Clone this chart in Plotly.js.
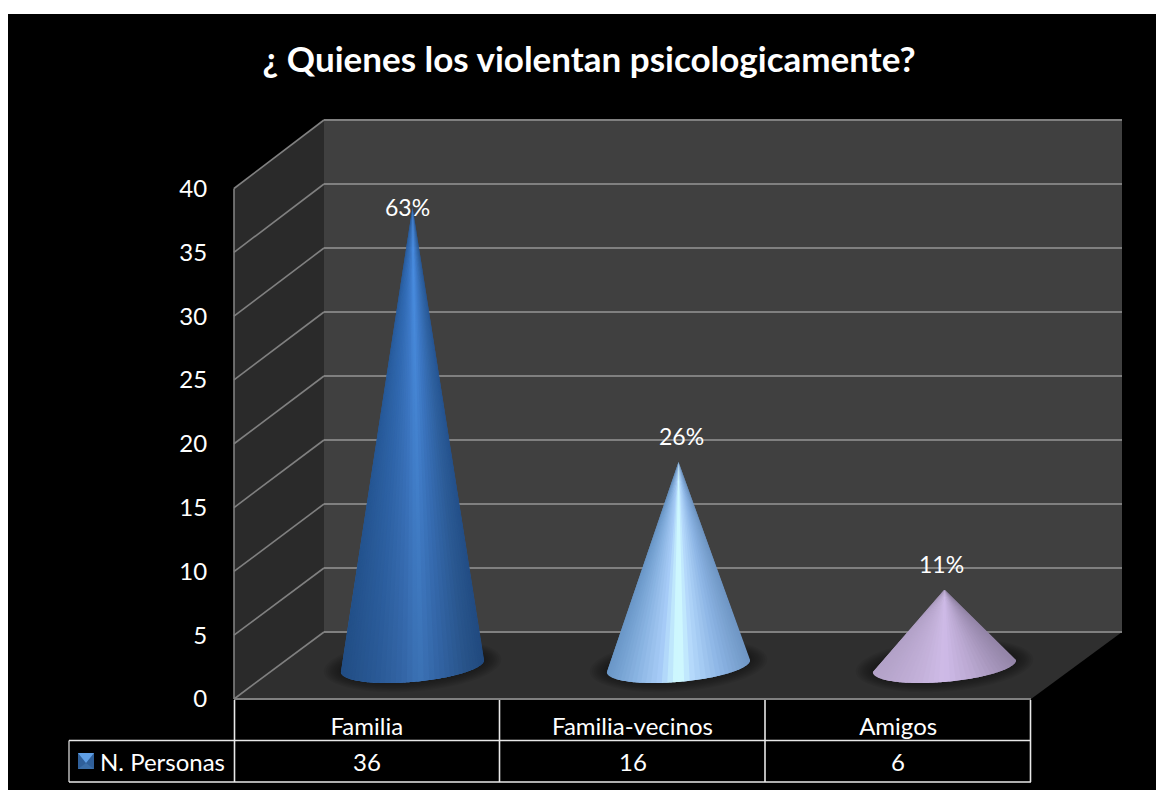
<!DOCTYPE html>
<html><head><meta charset="utf-8">
<script src="https://cdn.plot.ly/plotly-3.0.1.min.js"></script>
<style>html,body{margin:0;padding:0;background:#fff}</style></head>
<body><div id="chart" style="width:1156px;height:790px"></div>
<script>
const titleText = '¿ Quienes los violentan psicologicamente?';
const categories = ['Familia', 'Familia-vecinos', 'Amigos'];
const personas = [36, 16, 6];
const percentLabels = ['63%', '26%', '11%'];
const seriesName = 'N. Personas';
const yTicks = [0, 5, 10, 15, 20, 25, 30, 35, 40];

const W = 1156, H = 790, FONT = 'Lato, "Open Sans", sans-serif';
const px = x => x / W, py = y => 1 - y / H;
const dom = (a, b) => [a / W, b / W], domY = (bottom, top) => [1 - bottom / H, 1 - top / H];

// cone shading: colour stops across the visible surface (left edge -> right edge)
const ramps = [
  [[-1,'#2a62a8'],[-0.5,'#3572bf'],[-0.15,'#4180d2'],[0.1,'#4c92e8'],[0.35,'#4180d2'],[0.75,'#3269ad'],[1,'#295c9f']],
  [[-1,'#6a97c8'],[-0.6,'#8ab4e2'],[-0.25,'#a8cdf8'],[0.0,'#d4ffff'],[0.2,'#b4d8fb'],[0.6,'#8cb4e4'],[1,'#6f96c4']],
  [[-1,'#b3a2c8'],[-0.4,'#c2b0d8'],[0.0,'#cfbbe8'],[0.4,'#bba9d2'],[1,'#9485a8']]
];
const darken = [0.22, 0, 0];
const rx = 0.269, ry = 1.25, tilt = 0.47, nFacets = 40;

function hex(c){return [1,3,5].map(i=>parseInt(c.substr(i,2),16));}
function rampColor(r,u){
  for(let i=1;i<r.length;i++){ if(u<=r[i][0]){
    const f=(u-r[i-1][0])/(r[i][0]-r[i-1][0]), a=hex(r[i-1][1]), b=hex(r[i][1]);
    return 'rgb('+a.map((v,k)=>Math.round(v+(b[k]-v)*f)).join(',')+')';
  }}
  return r[r.length-1][1];
}
const rim = (i,t) => [i + rx*Math.cos(t), -ry*Math.sin(t) + tilt*Math.cos(t)];

const traces = [];
const skip = {hoverinfo:'skip', showlegend:false};
traces.push({type:'scatter', mode:'none', x:categories, y:personas, xaxis:'x', yaxis:'y', name:seriesName, showlegend:false, hoverinfo:'skip'});
traces.push({type:'scatter', mode:'none', x:[0,1], y:[0,40], xaxis:'x2', yaxis:'y2', ...skip});

personas.forEach((v,i)=>{
  // soft shadow
  for(let s=8;s>=1;s--){
    const k=1+0.03*s, xs=[], ys=[];
    for(let j=0;j<=60;j++){const t=j/60*2*Math.PI; xs.push(i+rx*k*Math.cos(t)); ys.push(-(ry+0.1*s)*Math.sin(t)+tilt*Math.cos(t)+0.05);}
    traces.push({type:'scatter',mode:'none',x:xs,y:ys,fill:'toself',fillcolor:'rgba(0,0,0,0.055)',xaxis:'x3',yaxis:'y3',...skip});
  }
  // cone surface: each facet overlaps the next one's area so no seams show
  for(let j=0;j<nFacets;j++){
    const dt=Math.PI/nFacets, t0=j*dt, t1=Math.min(Math.PI,(j+2)*dt);
    const xs=[i],ys=[v];
    for(let q=0;q<=6;q++){const p=rim(i,t0+(t1-t0)*q/6);xs.push(p[0]);ys.push(p[1]);}
    xs.push(i);ys.push(v);
    const col=rampColor(ramps[i],Math.cos(t0+dt/2));
    traces.push({type:'scatter',mode:'none',x:xs,y:ys,fill:'toself',fillcolor:col,xaxis:'x3',yaxis:'y3',...skip});
  }
  if(darken[i]>0){
    const xs=[i],ys=[v];
    for(let j=0;j<=nFacets;j++){const p=rim(i,j/nFacets*Math.PI);xs.push(p[0]);ys.push(p[1]);}
    xs.push(i);ys.push(v);
    traces.push({type:'scatter',mode:'none',x:xs,y:ys,fill:'toself',
      fillgradient:{type:'vertical',colorscale:[[0,'rgba(0,0,0,'+darken[i]+')'],[1,'rgba(0,0,0,0)']]},
      xaxis:'x3',yaxis:'y3',...skip});
  }
});

const grey='#808080', tableLine='#e8e8e8';
const shapes=[];
const poly=(pts,fill)=>shapes.push({type:'path',xref:'paper',yref:'paper',layer:'below',
  path:'M'+pts.map(p=>px(p[0])+','+py(p[1])).join('L')+'Z',fillcolor:fill,line:{width:0}});
const seg=(x0,y0,x1,y1,color,width)=>shapes.push({type:'line',xref:'paper',yref:'paper',layer:'below',
  x0:px(x0),y0:py(y0),x1:px(x1),y1:py(y1),line:{color:color,width:width}});
poly([[8,14],[W,14],[W,H],[8,H]],'#000000');
poly([[324,120],[1122,120],[1122,632],[324,632]],'#404040');
poly([[234,188.5],[324,120],[324,632],[234,699]],'#2a2a2a');
poly([[234,699],[324,632],[1122,632],[1031,699]],'#2f2f2f');
yTicks.forEach(t=>{ const f=t/40; seg(234,699-510.5*f,324,632-512*f,grey,1.6); });
seg(324,120,1122,120,grey,2);
seg(324,632,1122,632,grey,2);
seg(234,188.5,234,699,grey,1.6);
seg(234,699,1031,699,grey,2);

// data table grid
[234.5,499.5,765,1030.5].forEach(x=>shapes.push({type:'line',xref:'paper',yref:'paper',layer:'above',x0:px(x),x1:px(x),y0:py(700),y1:py(782),line:{color:tableLine,width:1.6}}));
[740.5,782].forEach(y=>shapes.push({type:'line',xref:'paper',yref:'paper',layer:'above',x0:px(69),x1:px(1031),y0:py(y),y1:py(y),line:{color:tableLine,width:1.6}}));
shapes.push({type:'line',xref:'paper',yref:'paper',layer:'above',x0:px(69),x1:px(69),y0:py(740.5),y1:py(782),line:{color:tableLine,width:1.2}});
// legend key
const key=(pts,fill)=>shapes.push({type:'path',xref:'paper',yref:'paper',layer:'above',path:'M'+pts.map(p=>px(p[0])+','+py(p[1])).join('L')+'Z',fillcolor:fill,line:{width:0}});
key([[78,753],[94,753],[94,769],[78,769]],'#2f5f99');
key([[78,753],[94,753],[86,763]],'#5f9fe6');
key([[78,769],[94,769],[86,763]],'#3b6ea8');

const annFont={family:FONT,size:24,color:'#ffffff'};
const labelFont={family:FONT,size:23,color:'#ffffff'};
const annotations=[];
const labelLift=[0,2,2], labelShift=[-5,3,-3];
personas.forEach((v,i)=>{
  annotations.push({xref:'x3',yref:'y3',x:i,y:v+labelLift[i],xshift:labelShift[i],text:percentLabels[i],showarrow:false,xanchor:'center',yanchor:'middle',font:labelFont});
  annotations.push({xref:'x',yref:'paper',x:categories[i],y:py(761),text:String(v),showarrow:false,xanchor:'center',yanchor:'middle',font:annFont});
});
annotations.push({xref:'paper',yref:'paper',x:px(227),y:py(761),text:seriesName,showarrow:false,xanchor:'right',yanchor:'middle',font:annFont});

const layout={
  width:W,height:H,margin:{l:0,r:0,t:0,b:0},autosize:false,
  paper_bgcolor:'#ffffff',plot_bgcolor:'rgba(0,0,0,0)',showlegend:false,
  title:{text:titleText,font:{family:FONT,size:35,color:'#ffffff',weight:700},x:589/W,xanchor:'center',xref:'paper',y:py(60),yanchor:'middle',yref:'paper'},
  xaxis:{domain:dom(234,1031),type:'category',categoryorder:'array',categoryarray:categories,range:[-0.5,2.5],anchor:'y',showgrid:false,zeroline:false,showline:false,ticks:'outside',ticklen:6,tickcolor:'rgba(0,0,0,0)',tickfont:annFont,tickangle:0},
  yaxis:{domain:domY(699,188.5),range:[0,40],tickvals:yTicks,anchor:'x',showgrid:false,zeroline:false,showline:false,ticks:'outside',ticklen:21,tickcolor:'rgba(0,0,0,0)',tickfont:annFont},
  xaxis2:{domain:dom(324,1122),range:[0,1],anchor:'y2',visible:false},
  yaxis2:{domain:domY(632,120),range:[0,40],tickvals:yTicks,anchor:'x2',showgrid:true,gridcolor:grey,gridwidth:2,zeroline:false,showticklabels:false,ticks:'',showline:false},
  xaxis3:{domain:dom(279.5,1077.5),range:[-0.5,2.5],anchor:'y3',visible:false},
  yaxis3:{domain:domY(717,156),range:[-4,40],anchor:'x3',visible:false},
  shapes,annotations
};
Plotly.newPlot('chart',traces,layout,{displayModeBar:false,staticPlot:true});
</script></body></html>
